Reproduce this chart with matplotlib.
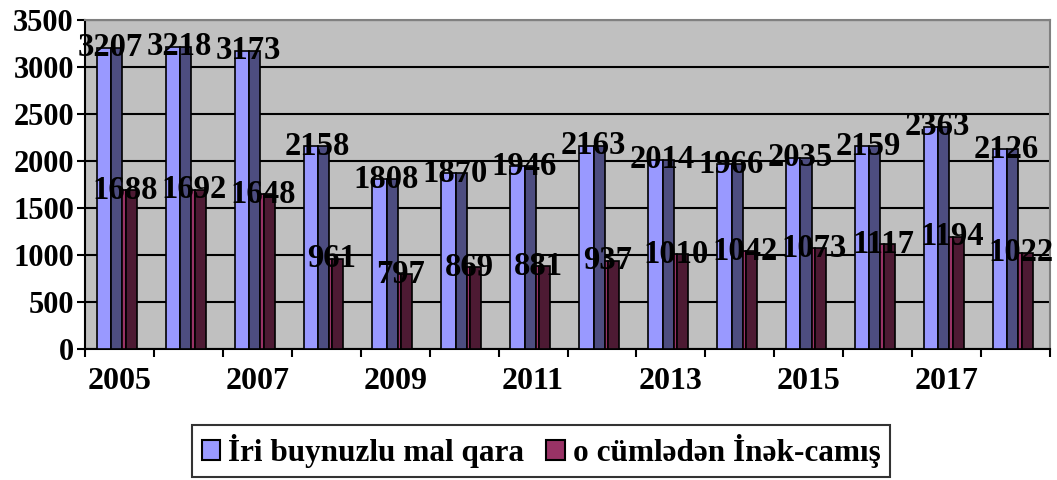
import matplotlib
matplotlib.use("Agg")
import matplotlib.pyplot as plt
import numpy as np
from matplotlib.patches import Patch

years = [2005, 2006, 2007, 2008, 2009, 2010, 2011, 2012, 2013, 2014, 2015, 2016, 2017, 2018]
iri = [3207, 3218, 3173, 2158, 1808, 1870, 1946, 2163, 2014, 1966, 2035, 2159, 2363, 2126]
inek = [1688, 1692, 1648, 961, 797, 869, 881, 937, 1010, 1042, 1073, 1117, 1194, 1022]
series_names = ["İri buynuzlu mal qara", "o cümlədən İnək-camış"]
yticks = [0, 500, 1000, 1500, 2000, 2500, 3000, 3500]

FONT = "Liberation Serif"
plt.rcParams['font.family'] = [FONT, 'DejaVu Serif']
plt.rcParams['font.weight'] = 'bold'

fig = plt.figure(figsize=(10.57, 4.8), dpi=100)
ax = fig.add_axes([85/1057, 1-349/480, (1050-85)/1057, (349-20)/480])
ax.set_facecolor('#C0C0C0')

x = np.arange(len(years))
ec = 'black'
lw = 1.2
# series 1: light front + dark side
ax.bar(x - 0.225, iri, width=0.21, color='#9999FF', edgecolor=ec, linewidth=lw, zorder=3)
ax.bar(x - 0.04, iri, width=0.16, color='#4D4D80', edgecolor=ec, linewidth=lw, zorder=3)
# series 2: thin pink front + dark side
ax.bar(x + 0.065, inek, width=0.05, color='#993366', edgecolor=ec, linewidth=lw, zorder=3)
ax.bar(x + 0.17, inek, width=0.16, color='#4D1A33', edgecolor=ec, linewidth=lw, zorder=3)

for i in range(len(years)):
    ax.text(x[i] - 0.13, iri[i], str(iri[i]), ha='center', va='center',
            fontsize=23.5, fontweight='bold', zorder=5)
    ax.text(x[i] + 0.08, inek[i], str(inek[i]), ha='center', va='center',
            fontsize=23.5, fontweight='bold', zorder=5)

ax.set_xlim(-0.5, len(years) - 0.5)
ax.set_ylim(0, 3500)
ax.set_yticks(yticks)
ax.set_yticklabels([str(v) for v in yticks], fontsize=22, fontweight='bold')
ax.yaxis.grid(True, color='black', linewidth=1.5, zorder=1)
ax.set_axisbelow(True)

ax.set_xticks(x[::2])
ax.set_xticklabels([str(y) for y in years[::2]], fontsize=23, fontweight='bold')
ax.set_xticks(np.arange(-0.5, len(years), 1.0), minor=True)
ax.tick_params(axis='x', which='major', length=0, pad=13)
ax.tick_params(axis='x', which='minor', length=6, width=1.5, direction='out')
ax.tick_params(axis='y', length=6, width=1.5, direction='out', pad=2)

for s in ['left', 'bottom']:
    ax.spines[s].set_color('black')
    ax.spines[s].set_linewidth(1.5)
for s in ['top', 'right']:
    ax.spines[s].set_color('#808080')
    ax.spines[s].set_linewidth(1.5)

handles = [Patch(facecolor='#9999FF', edgecolor='black', linewidth=1.5),
           Patch(facecolor='#993366', edgecolor='black', linewidth=1.5)]
leg = fig.legend(handles, series_names, loc='center', bbox_to_anchor=(541/1057, 1-451/480),
                 ncol=2, frameon=True, fancybox=False, edgecolor='black',
                 handlelength=0.6, handleheight=0.6, handletextpad=0.25, columnspacing=0.7,
                 borderpad=0.3, borderaxespad=0,
                 prop={'family': FONT, 'weight': 'bold', 'size': 22.5})
leg.get_frame().set_linewidth(1.5)

fig.savefig('out.png', dpi=100)
